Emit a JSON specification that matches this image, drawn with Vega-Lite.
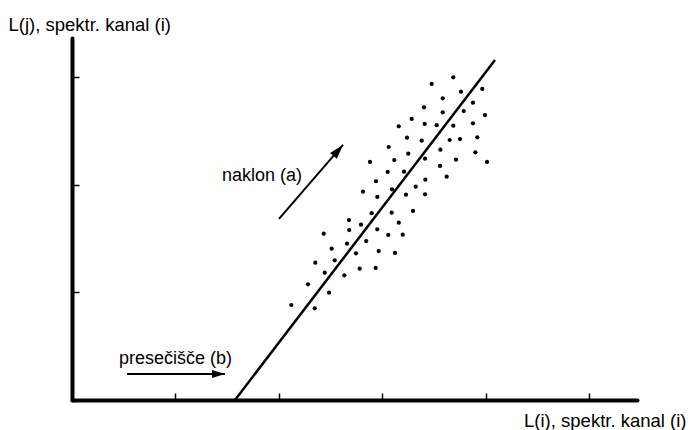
{
  "$schema": "https://vega.github.io/schema/vega-lite/v6.json",
  "width": 565,
  "height": 362,
  "autosize": {"type": "none"},
  "padding": {"left": 72, "top": 38, "right": 51, "bottom": 30},
  "background": "white",
  "config": {
    "view": {"stroke": null},
    "font": "Liberation Sans",
    "axis": {
      "grid": false,
      "labels": false,
      "domainColor": "black",
      "domainWidth": 4,
      "domainCap": "round",
      "tickColor": "black",
      "tickWidth": 1.5,
      "tickSize": -7,
      "titleFont": "Liberation Sans",
      "titleFontSize": 18.5,
      "titleFontWeight": "normal",
      "titleColor": "black",
      "titleAngle": 0,
      "titleBaseline": "alphabetic"
    }
  },
  "datasets": {
    "pts": [
      {"x": 3.684, "y": 2.996}, {"x": 3.475, "y": 2.934}, {"x": 3.964, "y": 2.888}, {"x": 3.758, "y": 2.863},
      {"x": 3.582, "y": 2.801}, {"x": 3.874, "y": 2.760}, {"x": 3.401, "y": 2.718}, {"x": 3.582, "y": 2.671},
      {"x": 3.785, "y": 2.683}, {"x": 3.990, "y": 2.646}, {"x": 3.282, "y": 2.609}, {"x": 3.157, "y": 2.541},
      {"x": 3.408, "y": 2.563}, {"x": 3.524, "y": 2.551}, {"x": 3.684, "y": 2.547}, {"x": 3.874, "y": 2.569},
      {"x": 3.237, "y": 2.435}, {"x": 3.379, "y": 2.408}, {"x": 3.649, "y": 2.414}, {"x": 3.749, "y": 2.423},
      {"x": 3.916, "y": 2.439}, {"x": 3.060, "y": 2.349}, {"x": 3.559, "y": 2.324}, {"x": 3.897, "y": 2.300},
      {"x": 3.249, "y": 2.287}, {"x": 3.114, "y": 2.228}, {"x": 3.411, "y": 2.240}, {"x": 3.710, "y": 2.231},
      {"x": 2.879, "y": 2.210}, {"x": 4.010, "y": 2.210}, {"x": 3.556, "y": 2.173}, {"x": 3.050, "y": 2.117},
      {"x": 3.208, "y": 2.120}, {"x": 3.620, "y": 2.073}, {"x": 2.937, "y": 2.031}, {"x": 3.414, "y": 2.046},
      {"x": 3.092, "y": 1.956}, {"x": 3.321, "y": 1.981}, {"x": 2.812, "y": 1.934}, {"x": 2.950, "y": 1.885},
      {"x": 3.227, "y": 1.906}, {"x": 3.411, "y": 1.910}, {"x": 3.295, "y": 1.755}, {"x": 2.896, "y": 1.734},
      {"x": 3.089, "y": 1.739}, {"x": 2.676, "y": 1.671}, {"x": 2.792, "y": 1.628}, {"x": 3.157, "y": 1.646},
      {"x": 2.679, "y": 1.578}, {"x": 2.950, "y": 1.585}, {"x": 2.432, "y": 1.544}, {"x": 3.056, "y": 1.532},
      {"x": 3.195, "y": 1.535}, {"x": 2.657, "y": 1.451}, {"x": 2.843, "y": 1.476}, {"x": 2.509, "y": 1.405},
      {"x": 2.744, "y": 1.362}, {"x": 2.963, "y": 1.383}, {"x": 3.121, "y": 1.365}, {"x": 2.351, "y": 1.275},
      {"x": 2.538, "y": 1.297}, {"x": 2.442, "y": 1.182}, {"x": 2.631, "y": 1.158}, {"x": 2.780, "y": 1.219},
      {"x": 2.934, "y": 1.226}, {"x": 2.280, "y": 1.074}, {"x": 2.483, "y": 0.996}, {"x": 2.119, "y": 0.882},
      {"x": 2.345, "y": 0.851}
    ],
    "fit": [
      {"x": 1.575, "y": 0.0},
      {"x": 4.087, "y": 3.157}
    ],
    "arrows": [
      {"name": "naklon", "x": 2.0, "y": 1.681, "x2": 2.618, "y2": 2.368},
      {"name": "presecisce", "x": 0.531, "y": 0.241, "x2": 1.478, "y2": 0.241}
    ],
    "labels": [
      {"x": 1.836, "y": 2.033, "label": "naklon (a)"},
      {"x": 1.0, "y": 0.334, "label": "presečišče (b)"}
    ]
  },
  "layer": [
    {
      "data": {"name": "pts"},
      "mark": {"type": "point", "filled": true, "shape": "circle", "size": 18, "color": "black", "opacity": 1},
      "encoding": {
        "x": {
          "field": "x", "type": "quantitative",
          "scale": {"domain": [0, 5.459], "nice": false, "zero": false},
          "axis": {
            "values": [1, 2, 3, 4, 5],
            "title": "L(i), spektr. kanal (i)",
            "titleAlign": "right",
            "titleX": 614,
            "titleY": 26
          }
        },
        "y": {
          "field": "y", "type": "quantitative",
          "scale": {"domain": [0, 3.361], "nice": false, "zero": false},
          "axis": {
            "values": [1, 2, 3],
            "title": "L(j), spektr. kanal (i)",
            "titleAlign": "left",
            "titleX": -64,
            "titleY": -8
          }
        }
      }
    },
    {
      "data": {"name": "fit"},
      "mark": {"type": "line", "color": "black", "strokeWidth": 2.5},
      "encoding": {
        "x": {"field": "x", "type": "quantitative"},
        "y": {"field": "y", "type": "quantitative"}
      }
    },
    {
      "data": {"name": "arrows"},
      "mark": {"type": "rule", "color": "black", "strokeWidth": 2},
      "encoding": {
        "x": {"field": "x", "type": "quantitative"},
        "y": {"field": "y", "type": "quantitative"},
        "x2": {"field": "x2"},
        "y2": {"field": "y2"}
      }
    },
    {
      "data": {"name": "arrows"},
      "transform": [{"filter": "datum.name === 'naklon'"}],
      "mark": {"type": "point", "filled": true, "color": "black", "opacity": 1, "shape": "M0,0L0.45,1.45L-0.45,1.45Z", "size": 400, "angle": 41},
      "encoding": {
        "x": {"field": "x2", "type": "quantitative"},
        "y": {"field": "y2", "type": "quantitative"}
      }
    },
    {
      "data": {"name": "arrows"},
      "transform": [{"filter": "datum.name === 'presecisce'"}],
      "mark": {"type": "point", "filled": true, "color": "black", "opacity": 1, "shape": "M0,0L0.4,1.3L-0.4,1.3Z", "size": 400, "angle": 90},
      "encoding": {
        "x": {"field": "x2", "type": "quantitative"},
        "y": {"field": "y2", "type": "quantitative"}
      }
    },
    {
      "data": {"name": "labels"},
      "mark": {"type": "text", "font": "Liberation Sans", "fontSize": 18, "color": "black", "align": "center", "baseline": "alphabetic"},
      "encoding": {
        "x": {"field": "x", "type": "quantitative"},
        "y": {"field": "y", "type": "quantitative"},
        "text": {"field": "label"}
      }
    }
  ]
}
